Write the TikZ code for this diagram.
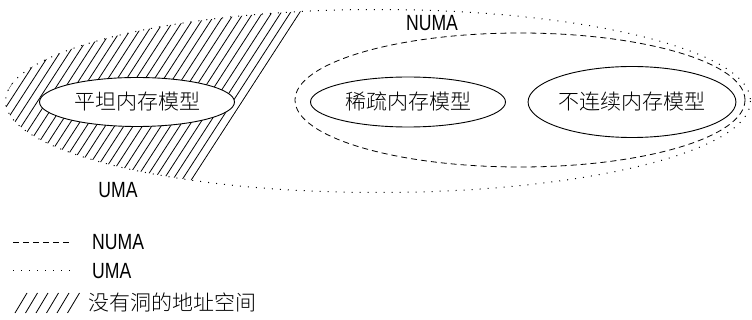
\documentclass[tikz,border=0pt]{standalone}
\usepackage{fontspec}
\setmainfont{Liberation Sans}[FakeStretch=0.8]
\IfFontExistsTF{Noto Sans CJK SC Light}
  {\newfontfamily\cjk{Noto Sans CJK SC Light}}
  {\newfontfamily\cjk{Noto Sans CJK SC}}
\usetikzlibrary{shapes.geometric}

\begin{document}
\begin{tikzpicture}[x=1pt,y=-1pt,font=\fontsize{22}{25}\selectfont,
    uma/.style={line width=1pt,dash pattern=on 1pt off 7pt},
    numa/.style={line width=0.8pt,dash pattern=on 6pt off 4pt},
    hatch/.style={line width=0.8pt},
    model/.style={ellipse,draw,line width=0.9pt,fill=white,inner sep=0pt,
      font=\cjk\fontsize{21}{24}\selectfont},
    key/.style={anchor=west,inner sep=0pt}]
  \useasboundingbox (0,0) rectangle (752,320);
  % hole-free part of the UMA space
  \begin{scope}
    \clip (378,101) ellipse [x radius=372.5, y radius=91.5];
    \clip (178,202) -- (314,-8) -- (-20,-8) -- (-20,202) -- cycle;
    \foreach \k in {0,...,40}
      \draw[hatch] ({177-9.3*\k},202) -- ++(136,-210);
  \end{scope}
  \draw[uma] (378,101) ellipse [x radius=372.5, y radius=91.5];
  \node[ellipse,draw,numa,minimum width=450pt,minimum height=134pt] (numa) at (520,100) {};
  % memory models
  \node[model,minimum width=195pt,minimum height=49pt] (flat) at (137,102) {平坦内存模型};
  \node[model,minimum width=195pt,minimum height=50pt] (sparse) at (408,102) {稀疏内存模型};
  \node[model,minimum width=195pt,minimum height=71pt] (discontig) at (632,102) {不连续内存模型};
  \node (numalabel) at (432,23) {NUMA};
  \node (umalabel) at (118,190) {UMA};
  % legend
  \coordinate (numaA) at (13,242);
  \coordinate (numaB) at (72,242);
  \draw[numa] (numaA) -- (numaB);
  \node[key] (numakey) at (92,242) {NUMA};
  \coordinate (umaA) at (13,271);
  \coordinate (umaB) at (70,271);
  \draw[uma] (umaA) -- (umaB);
  \node[key] (umakey) at (92,271) {UMA};
  \foreach \k in {0,...,5}
    \draw[hatch] ({15+10.5*\k},313) -- ++(12,-20);
  \node[key,font=\cjk\fontsize{21}{24}\selectfont] (holekey) at (88,302) {没有洞的地址空间};
\end{tikzpicture}
\end{document}
